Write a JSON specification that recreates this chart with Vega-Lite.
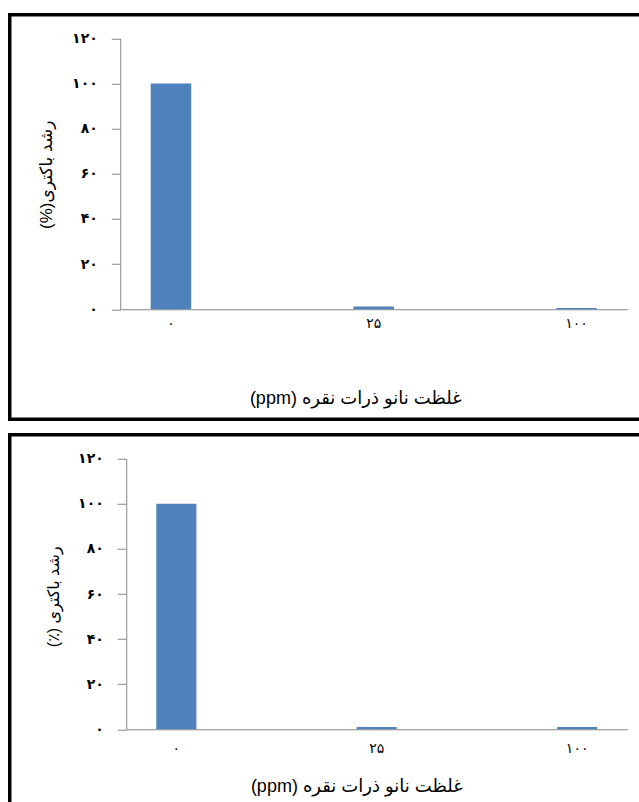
{
  "$schema": "https://vega.github.io/schema/vega-lite/v6.json",
  "padding": {"left": 7.75, "top": 12.75, "right": 0, "bottom": 0},
  "background": "white",
  "spacing": 11,
  "datasets": {
    "top": [
      {"c": "۰", "v": 100},
      {"c": "۲۵", "v": 1.2},
      {"c": "۱۰۰", "v": 0.5}
    ],
    "bottom": [
      {"c": "۰", "v": 100},
      {"c": "۲۵", "v": 1},
      {"c": "۱۰۰", "v": 1}
    ]
  },
  "config": {
    "view": {"stroke": "black", "strokeWidth": 3.5, "fill": "white"},
    "font": "DejaVu Sans",
    "axis": {
      "domainColor": "#868686",
      "tickColor": "#868686",
      "labelColor": "black",
      "titleColor": "black",
      "grid": false,
      "titleFontWeight": "normal",
      "titleFont": "Liberation Sans, DejaVu Sans",
      "labelFont": "DejaVu Sans"
    }
  },
  "vconcat": [
    {
      "width": 640,
      "height": 404.5,
      "data": {"name": "top"},
      "mark": {"type": "bar", "color": "#4F81BD"},
      "encoding": {
        "x": {
          "field": "c", "type": "nominal", "sort": ["۰", "۲۵", "۱۰۰"],
          "scale": {"range": [110.5, 617.5], "paddingInner": 0.8, "paddingOuter": 0.15},
          "axis": {
            "offset": -110, "ticks": false, "labelAngle": 0, "labelFontSize": 14, "labelPadding": 7,
            "title": "(ppm) غلظت نانو ذرات نقره", "titleFontSize": 18,
            "titleX": 345.5, "titleY": 89, "titleBaseline": "middle", "titleAnchor": "middle", "titleAlign": "center"
          }
        },
        "y": {
          "field": "v", "type": "quantitative",
          "scale": {"domain": [0, 120], "nice": false, "range": [294.5, 23.5]},
          "axis": {
            "offset": -110.5, "values": [0, 20, 40, 60, 80, 100, 120], "tickSize": 9, "labelPadding": 14,
            "labelFontSize": 14, "labelFontWeight": "bold",
            "labelExpr": "datum.value == 0 ? '۰' : datum.value == 20 ? '۲۰' : datum.value == 40 ? '۴۰' : datum.value == 60 ? '۶۰' : datum.value == 80 ? '۸۰' : datum.value == 100 ? '۱۰۰' : '۱۲۰'",
            "title": "(%)رشد باکتری", "titleFontSize": 17,
            "titleX": -74, "titleY": 159.5, "titleBaseline": "middle", "titleAngle": 270, "titleAlign": "center"
          }
        }
      }
    },
    {
      "width": 640,
      "height": 375,
      "data": {"name": "bottom"},
      "mark": {"type": "bar", "color": "#4F81BD"},
      "encoding": {
        "x": {
          "field": "c", "type": "nominal", "sort": ["۰", "۲۵", "۱۰۰"],
          "scale": {"range": [116.5, 617.5], "paddingInner": 0.8, "paddingOuter": 0.15},
          "axis": {
            "offset": -80.5, "ticks": false, "labelAngle": 0, "labelFontSize": 14, "labelPadding": 12,
            "title": "(ppm) غلظت نانو ذرات نقره", "titleFontSize": 18,
            "titleX": 346.5, "titleY": 57, "titleBaseline": "middle", "titleAnchor": "middle", "titleAlign": "center"
          }
        },
        "y": {
          "field": "v", "type": "quantitative",
          "scale": {"domain": [0, 120], "nice": false, "range": [294.5, 24]},
          "axis": {
            "offset": -116.5, "values": [0, 20, 40, 60, 80, 100, 120], "tickSize": 9, "labelPadding": 14,
            "labelFontSize": 14, "labelFontWeight": "bold",
            "labelExpr": "datum.value == 0 ? '۰' : datum.value == 20 ? '۲۰' : datum.value == 40 ? '۴۰' : datum.value == 60 ? '۶۰' : datum.value == 80 ? '۸۰' : datum.value == 100 ? '۱۰۰' : '۱۲۰'",
            "title": "(٪) رشد باکتری", "titleFontSize": 16,
            "titleX": -73, "titleY": 161.5, "titleBaseline": "middle", "titleAngle": 270, "titleAlign": "center"
          }
        }
      }
    }
  ]
}
